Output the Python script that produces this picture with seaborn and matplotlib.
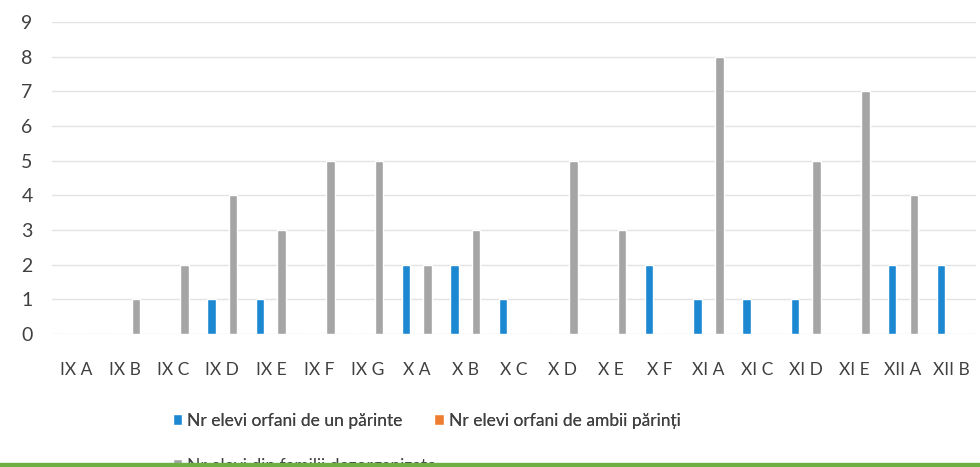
import numpy as np
import pandas as pd
import seaborn as sns
import matplotlib.pyplot as plt
from matplotlib.patches import Rectangle

# clase si serii
clase = ["IX A", "IX B", "IX C", "IX D", "IX E", "IX F", "IX G", "X A", "X B", "X C",
         "X D", "X E", "X F", "XI A", "XI C", "XI D", "XI E", "XII A", "XII B"]
orfani_un_parinte = [0, 0, 0, 1, 1, 0, 0, 2, 2, 1, 0, 0, 2, 1, 1, 1, 0, 2, 2]
orfani_ambii_parinti = [0] * 19
familii_dezorganizate = [0, 1, 2, 4, 3, 5, 5, 2, 3, 0, 5, 3, 0, 8, 0, 5, 7, 4, 0]

serii = ["Nr elevi orfani de un părinte", "Nr elevi orfani de ambii părinți",
         "Nr elevi din familii dezorganizate"]
culori = ["#1c88d2", "#ed7d31", "#a5a5a5"]

df = pd.DataFrame({
    "clasa": clase * 3,
    "valoare": orfani_un_parinte + orfani_ambii_parinti + familii_dezorganizate,
    "serie": [serii[0]] * 19 + [serii[1]] * 19 + [serii[2]] * 19,
})

sns.set_style("white")
plt.rcParams["font.family"] = ["Lato", "DejaVu Sans"]

fig = plt.figure(figsize=(9.8, 4.67), dpi=100)
ax = fig.add_axes([52 / 980, 1 - 334 / 467, 924 / 980, 312 / 467])

sns.barplot(data=df, x="clasa", y="valoare", hue="serie", palette=culori,
            saturation=1, width=0.67, gap=0.22, ax=ax, legend=True)

ax.set_ylim(0, 9)
ax.set_xlim(-0.5, 18.5)
ax.set_yticks(range(10))
ax.yaxis.grid(True, color="#e3e3e3", linewidth=1)
ax.set_axisbelow(True)
for s in ax.spines.values():
    s.set_visible(False)
ax.set_xlabel("")
ax.set_ylabel("")
ax.tick_params(axis="y", labelsize=14, labelcolor="#404040", pad=14, length=0)
ax.tick_params(axis="x", labelsize=12.5, labelcolor="#404040", pad=20, length=0)

# legenda (doua randuri, ca in Excel)
handles, labels = ax.get_legend_handles_labels()
ax.get_legend().remove()
stil = dict(frameon=False, fontsize=12.5, labelcolor="#404040", loc="upper left",
            handlelength=0.55, handleheight=0.55, handletextpad=0.3, borderpad=0)
leg1 = fig.legend(handles[:2], labels[:2], ncol=2, columnspacing=1.8,
                  bbox_to_anchor=(164 / 980, 1 - 404 / 467), **stil)
fig.add_artist(leg1)
fig.legend(handles[2:], labels[2:], bbox_to_anchor=(164 / 980, 1 - 449 / 467), **stil)

# banda verde de jos
fig.add_artist(Rectangle((0, 0), 1, 4 / 467, transform=fig.transFigure,
                         color="#6fb043", zorder=10))

plt.savefig("out.png", dpi=100)
